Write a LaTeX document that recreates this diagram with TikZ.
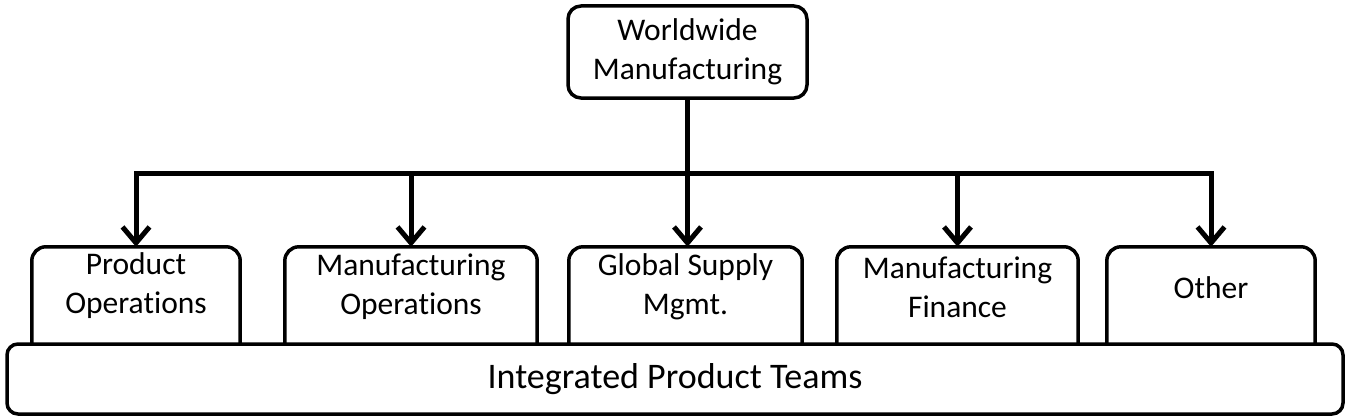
\documentclass[tikz,border=0pt]{standalone}
\usepackage{fontspec}
\setmainfont[Ligatures=NoCommon]{Carlito}
\usetikzlibrary{arrows.meta}
\begin{document}
\begin{tikzpicture}[x=1pt,y=-1pt,
  boxline/.style={line width=3.5pt},
  conn/.style={line width=5pt},
  arr/.style={conn,-{Straight Barb[length=16pt,width=27pt]}},
  txt/.style={font=\fontsize{31.5}{39}\selectfont, align=center, inner sep=0pt},
  slot/.style={minimum height=97pt, inner sep=0pt},
  tab/.style={boxline, rounded corners=14pt},
]
\useasboundingbox (0,0) rectangle (1360,420);

% top box
\node[draw, boxline, rounded corners=13pt, minimum width=239pt, minimum height=92pt, txt] (top) at (687.5,52) {Worldwide\\Manufacturing};

% bottom bar
\node[draw, boxline, rounded corners=11pt, minimum width=1336pt, minimum height=70pt, inner sep=0pt,
      font=\fontsize{36}{43}\selectfont] (ipt) at (675,379) {Integrated Product Teams};

% department boxes (open at bottom, sitting on the bar)
\node[slot, minimum width=208pt] (p1) at (136,295.5) {};
\node[slot, minimum width=252pt] (p2) at (411,295.5) {};
\node[slot, minimum width=233pt] (p3) at (685.5,295.5) {};
\node[slot, minimum width=241pt] (p4) at (957.5,295.5) {};
\node[slot, minimum width=208pt] (p5) at (1211,295.5) {};
\foreach \n in {p1,p2,p3,p4,p5}{
  \draw[tab] (\n.south west) -- (\n.north west) -- (\n.north east) -- (\n.south east);
}
\node[txt] (p1t) at (136,286) {Product\\Operations};
\node[txt] (p2t) at (411,287) {Manufacturing\\Operations};
\node[txt] (p3t) at (685.5,287) {Global Supply\\Mgmt.};
\node[txt] (p4t) at (957.5,287) {Manufacturing\\Finance};
\node[txt] (p5t) at (1211,288) {Other};

% connectors
\coordinate (busL) at (136,173);
\coordinate (busR) at (1211,173);
\draw[conn] (busL) -- (busR);
\draw[arr] (p2.north |- busL) -- (busL) -- (p1.north);
\draw[arr] (p4.north |- busR) -- (busR) -- (p5.north);
\draw[arr] (p2.north |- busL) -- (p2.north);
\draw[arr] (p4.north |- busL) -- (p4.north);
\draw[arr] (top.south) -- (top.south |- p3.north);
\end{tikzpicture}
\end{document}
